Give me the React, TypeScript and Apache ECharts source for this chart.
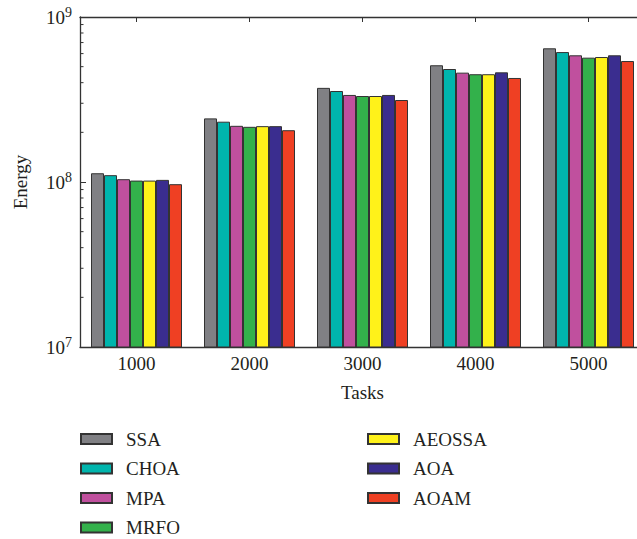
import React, { useEffect, useRef } from "react";
import * as echarts from "echarts";

const categories = ["1000", "2000", "3000", "4000", "5000"];
const seriesNames = ["SSA", "CHOA", "MPA", "MRFO", "AEOSSA", "AOA", "AOAM"];
const SSA = [1.13e8, 2.43e8, 3.72e8, 5.1e8, 6.46e8];
const CHOA = [1.1e8, 2.32e8, 3.56e8, 4.84e8, 6.13e8];
const MPA = [1.04e8, 2.19e8, 3.37e8, 4.6e8, 5.86e8];
const MRFO = [1.02e8, 2.16e8, 3.32e8, 4.5e8, 5.67e8];
const AEOSSA = [1.02e8, 2.18e8, 3.32e8, 4.5e8, 5.72e8];
const AOA = [1.03e8, 2.18e8, 3.37e8, 4.62e8, 5.86e8];
const AOAM = [0.97e8, 2.06e8, 3.14e8, 4.27e8, 5.41e8];
const seriesData = [SSA, CHOA, MPA, MRFO, AEOSSA, AOA, AOAM];
const colors = ["#808084", "#00b5ad", "#c0509e", "#33b14b", "#fff21a", "#3a2d8f", "#ef4023"];
const yMin = 1e7;
const yMax = 1e9;
const minorTickValues = [2, 3, 4, 5, 6, 7, 8, 9].flatMap((m) => [m * 1e7, m * 1e8]);

const FONT = "Liberation Serif";
const TEXT = "#231f20";
const AXIS = "#333333";

export default function App() {
  const ref = useRef<HTMLDivElement>(null);
  useEffect(() => {
    document.body.style.margin = "0";
    const chart = echarts.init(ref.current!, null, { renderer: "svg" });
    const legendText = { fontFamily: FONT, fontSize: 19, color: TEXT, padding: [0, 0, 0, 9], lineHeight: 19 };
    const legendBase = {
      orient: "vertical",
      top: 429.5,
      height: 120,
      padding: 0,
      icon: "rect",
      itemWidth: 31,
      itemHeight: 10,
      itemGap: 10.5,
      textStyle: legendText,
    };
    chart.setOption({
      animation: false,
      textStyle: { fontFamily: FONT },
      grid: { left: 80, top: 17, width: 565, height: 330, outerBoundsMode: "none", containLabel: false },
      legend: [
        { ...legendBase, data: seriesNames.slice(0, 4), left: 80 },
        { ...legendBase, data: seriesNames.slice(4), left: 367 },
      ],
      xAxis: [
        {
          type: "category",
          data: categories,
          name: "Tasks",
          nameLocation: "middle",
          nameGap: 36,
          nameTextStyle: { fontFamily: FONT, fontSize: 19, color: TEXT },
          axisLine: { lineStyle: { color: AXIS, width: 1.3 } },
          axisTick: { show: false },
          axisLabel: { fontFamily: FONT, fontSize: 19, color: TEXT, margin: 7 },
        },
        {
          type: "category",
          data: categories,
          position: "top",
          axisLine: { lineStyle: { color: AXIS, width: 1.3 } },
          axisTick: { show: true, inside: true, alignWithLabel: true, length: 5, lineStyle: { color: AXIS } },
          axisLabel: { show: false },
        },
      ],
      yAxis: {
        type: "log",
        logBase: 10,
        min: yMin,
        max: yMax,
        name: "Energy",
        nameLocation: "middle",
        nameGap: 50,
        nameTextStyle: { fontFamily: FONT, fontSize: 19, color: TEXT },
        axisLine: { show: true, lineStyle: { color: AXIS, width: 1.3 } },
        axisTick: { show: true, inside: true, length: 6, lineStyle: { color: AXIS } },
        splitLine: { show: false },
        axisLabel: {
          margin: 8,
          formatter: (v: number) => `{b|10}{s|${Math.round(Math.log10(v))}}`,
          rich: {
            b: { fontFamily: FONT, fontSize: 19, color: TEXT },
            s: { fontFamily: FONT, fontSize: 14, color: TEXT, padding: [0, 0, 9, 0] },
          },
        },
      },
      series: seriesNames.map((name, i) => ({
        name,
        type: "bar",
        data: seriesData[i],
        barWidth: 13,
        barGap: "0%",
        itemStyle: { color: colors[i], borderColor: AXIS, borderWidth: 1 },
      })),
    });
    const axisX = 80;
    chart.setOption({
      graphic: minorTickValues.map((v) => {
        const y = chart.convertToPixel({ yAxisIndex: 0 }, v) as number;
        return {
          type: "line",
          shape: { x1: axisX, y1: y, x2: axisX + 3.5, y2: y },
          style: { stroke: AXIS, lineWidth: 1 },
          silent: true,
        };
      }),
    });
    return () => chart.dispose();
  }, []);
  return <div ref={ref} style={{ width: 637, height: 539 }} />;
}
